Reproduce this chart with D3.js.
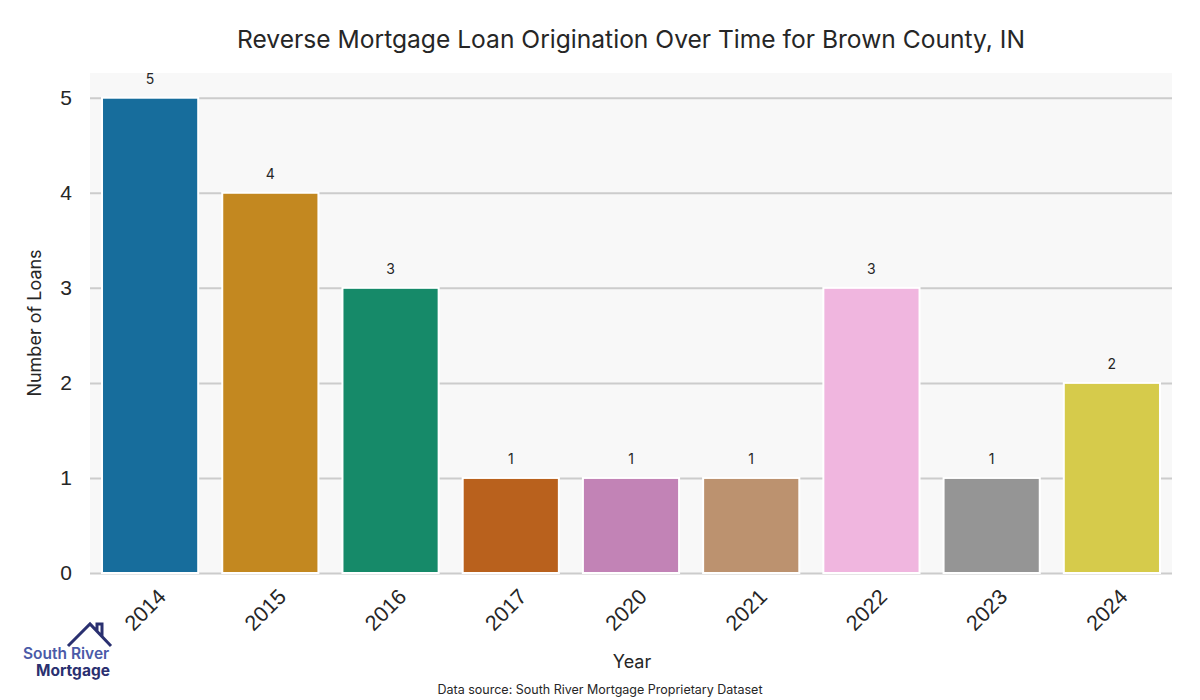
<!DOCTYPE html>
<html><head><meta charset="utf-8">
<script src="https://cdn.jsdelivr.net/npm/d3@7"></script>
<style>body{margin:0;background:#fff}svg{display:block}</style>
</head><body>
<svg id="c" width="1200" height="700"></svg>
<script>
const years = ["2014","2015","2016","2017","2020","2021","2022","2023","2024"];
const loans = [5,4,3,1,1,1,3,1,2];
const colors = ["#176d9c","#c38820","#168a69","#b9611d","#c283b6","#bc926f","#f0b6df","#959595","#d6cb4b"];
const yTicks = [0,1,2,3,4,5];

const svg = d3.select("#c");
const m = {l:90, r:1172, t:73, b:573};
const x = d3.scaleBand().domain(years).range([m.l,m.r]).paddingInner(0.2).paddingOuter(0.1);
const y = d3.scaleLinear().domain([0,5.26]).range([m.b,m.t]);

svg.append("rect").attr("x",m.l).attr("y",m.t).attr("width",m.r-m.l).attr("height",m.b-m.t).attr("fill","#f8f8f8");

const ya = svg.append("g").attr("transform",`translate(${m.l},0)`)
  .call(d3.axisLeft(y).tickValues(yTicks).tickSize(-(m.r-m.l)).tickFormat(d3.format("d")).tickPadding(18));
ya.select(".domain").remove();
ya.selectAll(".tick line").attr("stroke","#cccccc").attr("stroke-width",2);
ya.selectAll(".tick text").attr("font-family","Liberation Sans, Arial, sans-serif").attr("font-size",21).attr("fill","#262626");

svg.selectAll("rect.bar").data(years).enter().append("rect").attr("class","bar")
  .attr("x",d=>x(d)).attr("width",x.bandwidth())
  .attr("y",(d,i)=>y(loans[i])).attr("height",(d,i)=>y(0)-y(loans[i]))
  .attr("fill",(d,i)=>colors[i]).attr("stroke","#fff").attr("stroke-width",2);

svg.selectAll("text.val").data(years).enter().append("text").attr("class","val")
  .attr("x",d=>x(d)+x.bandwidth()/2).attr("y",(d,i)=>y(loans[i])-14)
  .attr("text-anchor","middle").attr("font-family","Inter, sans-serif").attr("font-size",14).attr("fill","#262626")
  .text((d,i)=>loans[i]);

const xa = svg.append("g").attr("transform",`translate(0,${m.b})`).call(d3.axisBottom(x).tickSize(0));
xa.select(".domain").remove();
xa.selectAll(".tick text").attr("font-family","Liberation Sans, Arial, sans-serif").attr("font-size",21.5).attr("fill","#262626")
  .attr("text-anchor","end").attr("dy",0).attr("transform","translate(15,23) rotate(-45)");

svg.append("text").attr("x",631).attr("y",48).attr("text-anchor","middle").attr("font-family","Inter, sans-serif")
  .attr("font-size",24.6).attr("fill","#262626").text("Reverse Mortgage Loan Origination Over Time for Brown County, IN");
svg.append("text").attr("transform","translate(41,323) rotate(-90)").attr("text-anchor","middle").attr("font-family","Inter, sans-serif")
  .attr("font-size",18).attr("fill","#262626").text("Number of Loans");
svg.append("text").attr("x",632).attr("y",668).attr("text-anchor","middle").attr("font-family","Inter, sans-serif")
  .attr("font-size",18).attr("fill","#262626").text("Year");
svg.append("text").attr("x",600).attr("y",694).attr("text-anchor","middle").attr("font-family","Inter, sans-serif")
  .attr("font-size",12.5).attr("fill","#262626").text("Data source: South River Mortgage Proprietary Dataset");

// logo
const lg = svg.append("g");
lg.append("path").attr("d","M68,646 L90,624 L111,646 M97,631 L97,624 L102,624 L102,636")
  .attr("fill","none").attr("stroke","#2a3070").attr("stroke-width",3).attr("stroke-linejoin","miter");
lg.append("text").attr("x",23).attr("y",659).attr("font-family","Inter, sans-serif").attr("font-weight",600)
  .attr("font-size",15.5).attr("fill","#4a5aa8").text("South River");
lg.append("text").attr("x",36).attr("y",676).attr("font-family","Inter, sans-serif").attr("font-weight",700)
  .attr("font-size",15.5).attr("fill","#2a3070").text("Mortgage");
</script>
</body></html>
